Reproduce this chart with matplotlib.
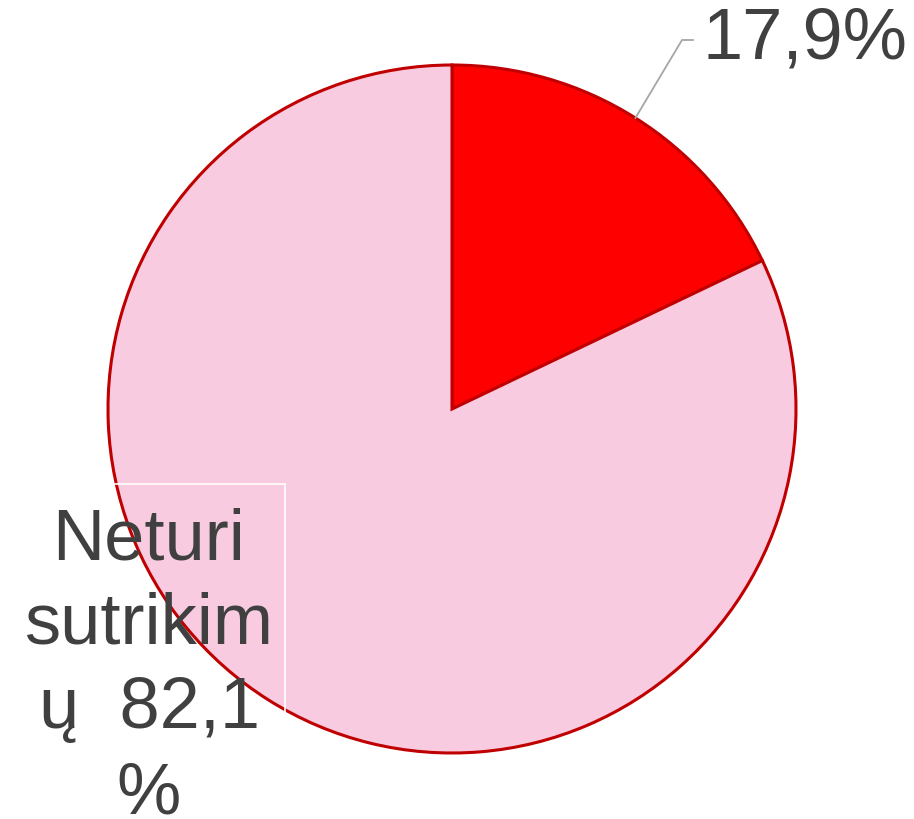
import matplotlib.pyplot as plt
from matplotlib.patches import Rectangle
import numpy as np

# data
shares = [17.9, 82.1]
labels = ["17,9%", "Neturi\nsutrikim\nų  82,1\n%"]
colors = ["#ff0000", "#f8cbe0"]

W, H = 914, 820
fig = plt.figure(figsize=(W / 100, H / 100), dpi=100)
ax = fig.add_axes([0, 0, 1, 1])

cx, cy, r = 452, H - 410, 344
wedges, _ = ax.pie(shares, colors=colors, startangle=90, counterclock=False,
                   center=(cx, cy), radius=r, frame=True,
                   wedgeprops=dict(edgecolor="#c00000", linewidth=2.2))
ax.set_xlim(0, W)
ax.set_ylim(0, H)
ax.set_aspect("equal")
ax.axis("off")

txt_color = "#404040"
font = "Liberation Sans"

# small slice label with leader line
mid = np.deg2rad(90 - shares[0] / 100 * 360 / 2)
p0 = (cx + r * np.cos(mid), cy + r * np.sin(mid))
ax.plot([p0[0], 682, 693], [p0[1], H - 41, H - 41], color="#a6a6a6", lw=1.3)
ax.text(703, H - 40, labels[0], fontsize=52, color=txt_color, family=font,
        ha="left", va="center")

# big slice label in its white outlined box
ax.add_patch(Rectangle((13, -5), 272, H - 485 + 5, fill=False,
                       edgecolor="white", lw=1.2, zorder=3))
ax.text(149, H - 507, labels[1], fontsize=52, color=txt_color, family=font,
        ha="center", va="top", linespacing=1.34, zorder=4)

fig.savefig("out.png", dpi=100)
